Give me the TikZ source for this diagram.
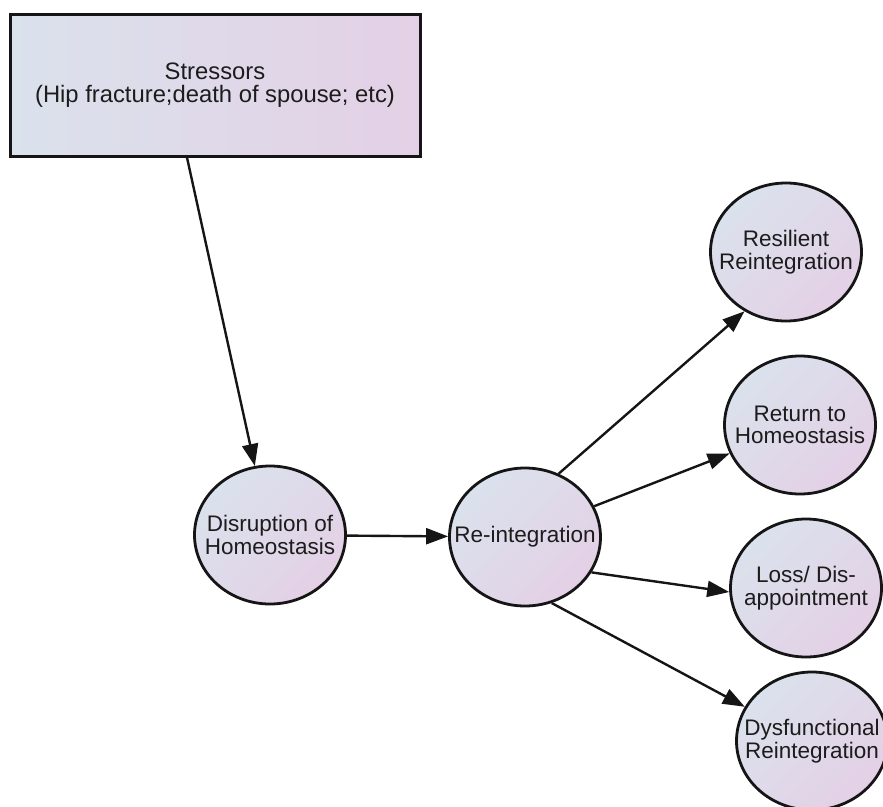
\documentclass[tikz,border=0pt]{standalone}
\usepackage{fontspec}
\setmainfont{Liberation Sans}
\usetikzlibrary{shapes.geometric,arrows.meta}

\definecolor{fillblue}{HTML}{DAE2EC}
\definecolor{fillpink}{HTML}{E4D0E6}
\definecolor{edgecol}{HTML}{151515}
\definecolor{textcol}{HTML}{1C1C1C}

\tikzset{
  boxnode/.style={draw=edgecol, line width=3pt, rectangle,
    minimum width=410pt, minimum height=142pt, inner sep=0pt,
    left color=fillblue, right color=fillpink,
    align=center, text=textcol, font=\fontsize{23.8}{23.5}\selectfont},
  statetext/.style={inner sep=0pt, align=center, text=textcol,
    font=\fontsize{22.5}{22.5}\selectfont},
  statenode/.style={draw=edgecol, line width=2.8pt, ellipse,
    minimum width=151pt, minimum height=138pt, inner sep=0pt,
    top color=fillblue, bottom color=fillpink, shading angle=45,
    label={[statetext]center:#1}},
  flow/.style={draw=edgecol, line width=2.4pt,
    -{Triangle[length=22pt,width=16pt]}},
}

\begin{document}
\begin{tikzpicture}[x=1pt,y=-1pt]
  \useasboundingbox (0,0) rectangle (883,806);
  \clip (0,0) rectangle (883,806);

  \node[boxnode] (stress) at (215,85) {Stressors\\(Hip fracture;death of spouse; etc)};

  \node[statenode={Disruption of\\Homeostasis}] (disrupt) at (270,535) {};
  \node[statenode={Re-integration}]             (reint)   at (525,537) {};

  \node[statenode={Resilient\\Reintegration}]   (resil)   at (786,252) {};
  \node[statenode={Return to\\Homeostasis}]     (ret)     at (800,425) {};
  \node[statenode={Loss/ Dis-\\appointment}]    (loss)    at (806,588) {};
  \node[statenode={Dysfunctional\\Reintegration}] (dysf)  at (812,741) {};

  \draw[flow] ([xshift=-28pt]stress.south) -- (disrupt);
  \draw[flow] (disrupt) -- (reint);
  \draw[flow] (reint.62)  -- (resil.235);
  \draw[flow] (reint.24)  -- (ret.202);
  \draw[flow] (reint.-28) -- (loss.183);
  \draw[flow] (reint.-68) -- (dysf.153);
\end{tikzpicture}
\end{document}
